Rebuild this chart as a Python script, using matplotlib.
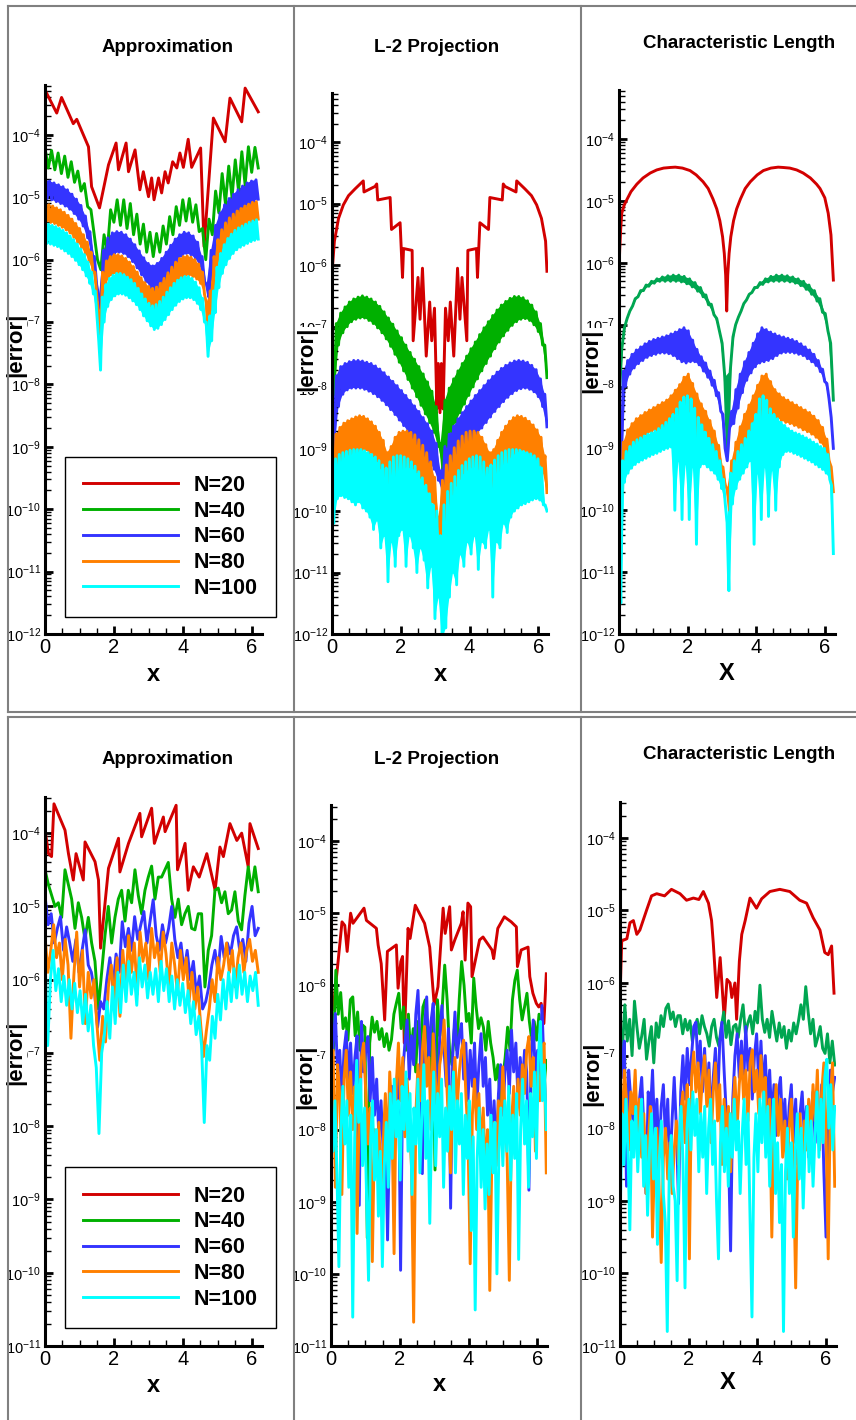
import numpy as np
import matplotlib
matplotlib.use("Agg")
import matplotlib.pyplot as plt
from matplotlib.ticker import LogLocator, MultipleLocator, LogFormatterMathtext, NullFormatter
from matplotlib.lines import Line2D

plt.rcParams["font.family"] = ["Liberation Sans", "DejaVu Sans"]
plt.rcParams["mathtext.fontset"] = "custom"
plt.rcParams["mathtext.rm"] = "Liberation Sans"
plt.rcParams["mathtext.it"] = "Liberation Sans:italic"
plt.rcParams["mathtext.bf"] = "Liberation Sans:bold"

# =========================================================
# DATA  (log10 of |error|)
# =========================================================
LABELS = ["N=20", "N=40", "N=60", "N=80", "N=100"]

# ---------- top row : smooth initial condition ----------
# Approximation
tl_red_x = [0.0, 0.34, 0.48, 0.82, 0.92, 1.26, 1.35, 1.58, 1.84, 2.06, 2.13, 2.35, 2.42, 2.61, 2.75, 2.85,
            3.0, 3.09, 3.16, 3.29, 3.38, 3.48, 3.57, 3.70, 3.82, 3.91, 4.01, 4.15, 4.25, 4.51, 4.61, 4.88,
            5.22, 5.36, 5.70, 5.80, 6.18]
tl_red_y = [-3.28, -3.65, -3.40, -3.82, -3.75, -4.19, -4.83, -5.17, -4.48, -4.13, -4.56, -4.13, -4.59, -4.24,
            -4.88, -4.59, -4.99, -4.69, -5.04, -4.69, -4.93, -4.59, -4.77, -4.43, -4.53, -4.29, -4.52, -4.07,
            -4.52, -4.21, -5.79, -3.73, -4.11, -3.41, -3.79, -3.25, -3.63]
tl_green_hi = [-4.21, -4.25, -4.29, -4.34, -4.43, -4.58, -4.78, -5.2, -6.0, -5.6, -5.2, -5.04, -5.04, -5.1,
               -5.27, -5.43, -5.56, -5.58, -5.46, -5.31, -5.15, -5.04, -5.02, -5.12, -5.5, -5.35, -4.9, -4.62,
               -4.5, -4.4, -4.27, -4.19, -4.2]
tl_green_lo = [-4.53, -4.56, -4.62, -4.68, -4.76, -4.9, -5.15, -5.6, -6.16, -5.85, -5.4, -5.45, -5.5, -5.6,
               -5.75, -5.88, -5.95, -5.88, -5.75, -5.6, -5.45, -5.38, -5.4, -5.55, -6.0, -5.6, -5.25, -5.1,
               -5.0, -4.9, -4.8, -4.6, -4.53]
tl_blue_hi = [-4.72, -4.74, -4.77, -4.80, -4.83, -4.88, -4.95, -5.03, -5.13, -5.30, -5.55, -5.95, -6.6, -5.85,
              -5.65, -5.57, -5.55, -5.56, -5.60, -5.67, -5.76, -5.86, -5.97, -6.06, -6.10, -6.06, -5.98, -5.88,
              -5.77, -5.67, -5.60, -5.56, -5.57, -5.62, -5.72, -5.95, -6.4, -5.85, -5.45, -5.25, -5.12, -5.02,
              -4.95, -4.88, -4.82, -4.77, -4.74, -4.72]
tl_blue_lo = [-5.02, -5.04, -5.07, -5.10, -5.14, -5.19, -5.26, -5.35, -5.46, -5.65, -5.95, -6.4, -6.8, -6.2,
              -5.98, -5.9, -5.88, -5.9, -5.95, -6.03, -6.13, -6.24, -6.35, -6.44, -6.48, -6.44, -6.36, -6.25,
              -6.13, -6.02, -5.94, -5.9, -5.92, -5.98, -6.1, -6.35, -6.6, -6.2, -5.8, -5.58, -5.45, -5.36,
              -5.29, -5.22, -5.15, -5.1, -5.06, -5.03]
tl_orange_hi = [-5.10, -5.12, -5.14, -5.17, -5.20, -5.24, -5.29, -5.35, -5.42, -5.50, -5.60, -5.72, -5.88, -6.2,
                -6.9, -6.2, -6.02, -5.95, -5.92, -5.92, -5.94, -5.98, -6.04, -6.11, -6.2, -6.29, -6.37, -6.43,
                -6.46, -6.44, -6.38, -6.3, -6.21, -6.12, -6.04, -5.98, -5.95, -5.94, -5.96, -6.0, -6.07, -6.2,
                -6.7, -6.5, -5.95, -5.68, -5.52, -5.41, -5.33, -5.27, -5.22, -5.18, -5.14, -5.11, -5.08, -5.07]
tl_orange_lo = [-5.38, -5.4, -5.42, -5.45, -5.48, -5.52, -5.57, -5.64, -5.72, -5.8, -5.9, -6.03, -6.2, -6.6,
                -7.2, -6.5, -6.3, -6.24, -6.22, -6.22, -6.24, -6.28, -6.35, -6.43, -6.52, -6.6, -6.68, -6.74,
                -6.78, -6.76, -6.7, -6.62, -6.52, -6.43, -6.35, -6.29, -6.26, -6.25, -6.27, -6.31, -6.38, -6.55,
                -7.39, -6.8, -6.25, -5.97, -5.8, -5.69, -5.61, -5.55, -5.5, -5.46, -5.42, -5.39, -5.36, -5.35]
tl_cyan_hi = [-5.42, -5.43, -5.45, -5.47, -5.50, -5.53, -5.57, -5.62, -5.68, -5.75, -5.83, -5.92, -6.04, -6.2,
              -6.5, -7.3, -6.6, -6.4, -6.3, -6.25, -6.22, -6.22, -6.24, -6.28, -6.32, -6.38, -6.46, -6.55,
              -6.63, -6.7, -6.74, -6.72, -6.67, -6.6, -6.52, -6.45, -6.38, -6.33, -6.29, -6.27, -6.27, -6.3,
              -6.36, -6.45, -6.62, -7.0, -6.9, -6.5, -6.12, -5.9, -5.76, -5.66, -5.59, -5.53, -5.49, -5.46,
              -5.43, -5.4, -5.38, -5.36]
tl_cyan_lo = [-5.74, -5.75, -5.77, -5.79, -5.82, -5.86, -5.9, -5.95, -6.01, -6.08, -6.16, -6.26, -6.38, -6.55,
              -6.9, -7.77, -7.0, -6.75, -6.64, -6.58, -6.55, -6.55, -6.57, -6.61, -6.66, -6.72, -6.8, -6.9,
              -6.98, -7.06, -7.12, -7.1, -7.04, -6.96, -6.88, -6.8, -6.73, -6.67, -6.63, -6.61, -6.61, -6.64,
              -6.7, -6.8, -7.0, -7.55, -7.3, -6.85, -6.45, -6.22, -6.08, -5.98, -5.9, -5.84, -5.8, -5.77,
              -5.74, -5.71, -5.69, -5.67]

# L-2 Projection
tm_red_x = [0.0, 0.07, 0.19, 0.33, 0.48, 0.67, 0.91, 0.93, 1.25, 1.30, 1.33, 1.69, 1.73, 1.98, 2.05, 2.08,
            2.33, 2.36, 2.50, 2.56, 2.63, 2.74, 2.84, 2.90, 2.98, 3.05, 3.09, 3.14, 3.18, 3.23, 3.30, 3.38,
            3.44, 3.54, 3.65, 3.72, 3.78, 3.92, 3.95, 4.20, 4.23, 4.30, 4.55, 4.59, 4.95, 4.98, 5.03, 5.35,
            5.37, 5.61, 5.80, 5.95, 6.09, 6.21, 6.25]
tm_red_y = [-6.13, -5.61, -5.24, -5.02, -4.87, -4.76, -4.63, -4.81, -4.72, -4.68, -4.94, -4.9, -5.42, -5.31,
            -6.2, -5.73, -5.76, -7.23, -6.2, -6.88, -6.05, -7.48, -6.6, -7.23, -6.7, -8.34, -7.6, -8.4, -7.6,
            -8.34, -6.7, -7.23, -6.6, -7.48, -6.05, -6.88, -6.2, -7.23, -5.76, -5.73, -6.2, -5.31, -5.42,
            -4.9, -4.94, -4.68, -4.72, -4.81, -4.63, -4.76, -4.87, -5.02, -5.24, -5.61, -6.1]
tm_green_hi = [-7.9, -6.95, -6.78, -6.68, -6.6, -6.55, -6.52, -6.5, -6.52, -6.55, -6.6, -6.67, -6.76, -6.86,
               -6.96, -7.07, -7.18, -7.3, -7.42, -7.53, -7.65, -7.77, -7.9, -8.05, -8.3, -8.9, -8.2, -8.0,
               -7.85, -7.72, -7.6, -7.48, -7.36, -7.25, -7.13, -7.02, -6.92, -6.82, -6.73, -6.65, -6.59,
               -6.54, -6.51, -6.51, -6.53, -6.58, -6.65, -6.76, -6.95, -7.3]
tm_green_lo = [-8.1, -7.3, -7.1, -7.0, -6.92, -6.88, -6.86, -6.86, -6.9, -6.95, -7.02, -7.1, -7.2, -7.32,
               -7.45, -7.58, -7.72, -7.86, -8.0, -8.14, -8.28, -8.42, -8.56, -8.72, -8.95, -9.3, -8.95, -8.7,
               -8.55, -8.4, -8.26, -8.12, -7.98, -7.85, -7.72, -7.6, -7.48, -7.36, -7.25, -7.15, -7.06,
               -6.98, -6.92, -6.88, -6.87, -6.9, -6.97, -7.08, -7.3, -7.83]
tm_blue_hi = [-8.4, -7.8, -7.65, -7.6, -7.57, -7.55, -7.55, -7.56, -7.58, -7.6, -7.64, -7.69, -7.75, -7.82,
              -7.89, -7.96, -8.04, -8.12, -8.2, -8.29, -8.38, -8.48, -8.58, -8.7, -8.9, -9.35, -8.95, -8.75,
              -8.62, -8.5, -8.4, -8.3, -8.21, -8.12, -8.04, -7.96, -7.88, -7.81, -7.74, -7.68, -7.63, -7.59,
              -7.56, -7.55, -7.56, -7.58, -7.63, -7.7, -7.85, -8.1]
tm_blue_lo = [-9.0, -8.3, -8.1, -8.03, -8.0, -8.0, -8.0, -8.02, -8.05, -8.09, -8.14, -8.2, -8.27, -8.35,
              -8.43, -8.52, -8.61, -8.7, -8.8, -8.9, -9.0, -9.1, -9.2, -9.32, -9.5, -9.7, -9.5, -9.38, -9.26,
              -9.15, -9.04, -8.94, -8.84, -8.74, -8.65, -8.56, -8.47, -8.38, -8.3, -8.22, -8.15, -8.09,
              -8.04, -8.01, -8.0, -8.02, -8.06, -8.14, -8.3, -8.63]
tm_orange_hi = [-9.05, -8.75, -8.64, -8.57, -8.53, -8.5, -8.47, -8.45, -8.46, -8.5, -8.55, -8.62, -8.72, -8.85,
                -9.05, -8.95, -8.8, -8.72, -8.7, -8.7, -8.72, -8.76, -8.84, -8.93, -9.05, -9.2, -9.45, -10.1,
                -9.5, -9.25, -9.1, -8.97, -8.86, -8.78, -8.72, -8.7, -8.7, -8.72, -8.8, -8.92, -9.05, -9.0,
                -8.85, -8.72, -8.62, -8.54, -8.48, -8.45, -8.46, -8.49, -8.54, -8.6, -8.68, -8.8, -9.1]
tm_orange_lo = [-9.8, -9.3, -9.18, -9.12, -9.08, -9.05, -9.02, -9.0, -9.01, -9.05, -9.1, -9.18, -9.3, -9.5,
                -9.75, -9.6, -9.42, -9.32, -9.28, -9.28, -9.3, -9.36, -9.45, -9.56, -9.68, -9.85, -10.1, -10.4,
                -10.15, -9.9, -9.72, -9.58, -9.47, -9.38, -9.32, -9.28, -9.28, -9.32, -9.42, -9.55, -9.72,
                -9.6, -9.42, -9.3, -9.2, -9.12, -9.06, -9.02, -9.02, -9.05, -9.1, -9.16, -9.25, -9.38, -9.7]
tm_cyan_hi = [-9.97, -9.15, -9.08, -9.05, -9.03, -9.01, -9.0, -9.0, -9.0, -9.02, -9.05, -9.08, -9.12, -9.18,
              -9.25, -9.3, -9.2, -9.12, -9.1, -9.1, -9.12, -9.15, -9.2, -9.27, -9.36, -9.46, -9.58, -9.72,
              -9.9, -10.0, -10.4, -9.9, -9.68, -9.55, -9.44, -9.34, -9.26, -9.2, -9.15, -9.12, -9.1, -9.12,
              -9.2, -9.3, -9.25, -9.17, -9.1, -9.05, -9.02, -9.0, -9.0, -9.0, -9.01, -9.03, -9.05, -9.07,
              -9.1, -9.15, -9.3, -9.9]
tm_cyan_lo = [-10.2, -9.8, -9.75, -9.78, -9.8, -9.85, -9.9, -9.85, -9.95, -10.0, -10.1, -10.3, -10.15, -10.6,
              -10.4, -11.15, -10.5, -10.9, -10.4, -10.3, -10.9, -10.4, -10.6, -11.0, -10.6, -10.8, -11.25,
              -10.9, -11.75, -11.4, -12.1, -11.9, -11.4, -11.0, -11.2, -10.7, -10.9, -10.5, -10.7, -10.4,
              -10.95, -10.5, -10.6, -10.3, -11.4, -10.5, -10.6, -10.2, -10.35, -10.1, -10.0, -9.95, -9.9,
              -9.88, -9.85, -9.82, -9.8, -9.82, -9.9, -10.0]

# Characteristic Length
tr_red_x = [0.0, 0.02, 0.05, 0.08, 0.15, 0.22, 0.35, 0.52, 0.7, 0.91, 1.1, 1.3, 1.5, 1.64, 1.85, 2.07, 2.25,
            2.45, 2.6, 2.74, 2.85, 2.94, 3.02, 3.07, 3.11, 3.14, 3.17, 3.21, 3.26, 3.34, 3.43, 3.54, 3.68,
            3.83, 4.03, 4.21, 4.43, 4.64, 4.78, 4.98, 5.18, 5.37, 5.58, 5.76, 5.86, 6.0, 6.1, 6.18, 6.25]
tr_red_y = [-6.16, -5.8, -5.45, -5.2, -5.07, -4.99, -4.85, -4.73, -4.63, -4.55, -4.5, -4.47, -4.46, -4.455,
            -4.47, -4.51, -4.58, -4.69, -4.8, -4.97, -5.13, -5.32, -5.58, -5.85, -6.2, -6.78, -6.2, -5.85,
            -5.58, -5.32, -5.13, -4.97, -4.8, -4.69, -4.58, -4.51, -4.47, -4.455, -4.46, -4.47, -4.5, -4.55,
            -4.63, -4.73, -4.8, -4.95, -5.2, -5.55, -6.28]
tr_green_hi = [-8.3, -7.05, -6.78, -6.58, -6.45, -6.36, -6.3, -6.26, -6.23, -6.21, -6.2, -6.2, -6.22, -6.26,
               -6.32, -6.4, -6.52, -6.67, -6.9, -7.3, -9.1, -7.2, -6.88, -6.66, -6.51, -6.4, -6.32, -6.26,
               -6.22, -6.2, -6.2, -6.21, -6.23, -6.26, -6.3, -6.36, -6.45, -6.58, -6.82, -7.3]
tr_green_lo = [-7.4, -6.9, -6.7, -6.55, -6.45, -6.38, -6.33, -6.3, -6.3, -6.3, -6.3, -6.31, -6.34, -6.39,
               -6.46, -6.55, -6.68, -6.84, -7.1, -7.85, -7.75, -7.0, -6.78, -6.6, -6.48, -6.4, -6.35, -6.31,
               -6.3, -6.3, -6.3, -6.31, -6.33, -6.37, -6.43, -6.51, -6.62, -6.8, -7.1, -8.22]
tr_blue_hi = [-9.2, -7.75, -7.58, -7.48, -7.41, -7.36, -7.31, -7.27, -7.24, -7.22, -7.2, -7.18, -7.15, -7.12,
              -7.08, -7.05, -7.1, -7.25, -7.4, -7.52, -7.62, -7.75, -7.9, -8.1, -8.45, -9.2, -8.4, -8.05,
              -7.8, -7.6, -7.45, -7.3, -7.15, -7.05, -7.08, -7.12, -7.15, -7.18, -7.2, -7.22, -7.24, -7.27,
              -7.31, -7.36, -7.41, -7.48, -7.58, -7.72, -7.95, -8.5]
tr_blue_lo = [-9.5, -8.0, -7.8, -7.7, -7.63, -7.58, -7.53, -7.5, -7.48, -7.46, -7.46, -7.47, -7.5, -7.55,
              -7.6, -7.62, -7.6, -7.6, -7.65, -7.75, -7.85, -7.98, -8.15, -8.4, -9.0, -8.7, -8.6, -8.35,
              -8.1, -7.9, -7.78, -7.68, -7.62, -7.6, -7.58, -7.55, -7.5, -7.46, -7.45, -7.45, -7.46, -7.48,
              -7.5, -7.55, -7.6, -7.66, -7.76, -7.92, -8.2, -9.0]
tr_orange_hi = [-9.7, -8.9, -8.7, -8.6, -8.52, -8.47, -8.42, -8.38, -8.34, -8.3, -8.26, -8.22, -8.15, -8.06,
                -7.97, -7.85, -7.8, -7.95, -8.12, -8.28, -8.4, -8.55, -8.72, -8.95, -9.3, -9.65, -9.2, -8.9,
                -8.65, -8.45, -8.3, -8.15, -7.98, -7.83, -7.8, -7.92, -8.05, -8.12, -8.18, -8.22, -8.26,
                -8.3, -8.34, -8.38, -8.42, -8.48, -8.55, -8.66, -8.85, -9.3]
tr_orange_lo = [-10.0, -9.25, -9.05, -8.95, -8.87, -8.82, -8.77, -8.73, -8.7, -8.67, -8.64, -8.6, -8.55, -8.5,
                -8.45, -8.4, -8.4, -8.9, -8.6, -8.7, -8.8, -8.95, -9.1, -9.3, -9.6, -10.0, -9.55, -9.25, -9.0,
                -8.82, -8.7, -8.58, -8.48, -8.9, -8.42, -8.45, -8.5, -8.55, -8.58, -8.6, -8.63, -8.66, -8.7,
                -8.73, -8.77, -8.82, -8.9, -9.0, -9.2, -9.7]
tr_cyan_hi = [-10.5, -9.2, -9.05, -8.97, -8.9, -8.86, -8.83, -8.8, -8.77, -8.75, -8.72, -8.68, -8.63, -8.58,
              -8.52, -8.45, -8.36, -8.25, -8.17, -8.15, -8.2, -8.35, -8.5, -8.62, -8.74, -8.84, -8.94, -9.05,
              -9.2, -9.5, -10.2, -9.4, -9.2, -9.05, -8.94, -8.84, -8.72, -8.6, -8.45, -8.2, -8.15, -8.22,
              -8.36, -8.45, -8.52, -8.58, -8.63, -8.68, -8.72, -8.75, -8.77, -8.8, -8.83, -8.86, -8.9, -8.93,
              -8.97, -9.0, -9.1, -9.6]
tr_cyan_lo = [-11.5, -9.55, -9.4, -9.32, -9.26, -9.22, -9.19, -9.16, -9.13, -9.1, -9.08, -9.05, -9.02, -9.0,
              -8.98, -10.0, -9.2, -10.15, -9.25, -10.15, -9.3, -10.55, -9.3, -9.25, -9.3, -9.35, -9.4, -9.5,
              -9.65, -9.9, -11.3, -9.9, -9.65, -9.5, -9.4, -9.3, -9.2, -10.55, -9.4, -10.15, -9.3, -10.1,
              -9.35, -10.0, -9.3, -9.1, -9.05, -9.05, -9.08, -9.1, -9.13, -9.16, -9.19, -9.22, -9.26, -9.3,
              -9.34, -9.4, -9.5, -10.7]

# ---------- bottom row : rough initial condition ----------
# Approximation
bl_red_x = [0.0, 0.03, 0.1, 0.19, 0.26, 0.58, 0.68, 0.82, 0.9, 1.11, 1.16, 1.45, 1.55, 1.61, 1.84, 2.13, 2.17,
            2.42, 2.75, 2.8, 3.09, 3.17, 3.43, 3.48, 3.8, 3.84, 4.06, 4.15, 4.3, 4.47, 4.69, 4.93, 5.07, 5.17,
            5.36, 5.56, 5.7, 5.89, 5.94, 6.18]
bl_red_y = [-3.95, -4.05, -4.28, -4.32, -3.6, -3.96, -4.28, -4.64, -4.28, -4.64, -4.12, -4.39, -4.64, -5.57,
            -4.48, -4.07, -4.53, -4.14, -3.73, -4.05, -3.66, -4.14, -3.78, -3.98, -3.62, -4.5, -4.14, -4.78,
            -4.46, -4.6, -4.28, -4.78, -4.19, -4.32, -3.87, -4.1, -4.0, -4.46, -3.87, -4.21]
bl_green = [-4.5, -4.7, -4.85, -5.0, -4.95, -5.15, -4.5, -4.7, -4.9, -5.3, -4.95, -5.15, -5.45, -5.15, -5.5,
            -5.75, -6.4, -5.9, -5.4, -5.0, -5.5, -5.15, -4.9, -4.78, -5.2, -4.78, -4.95, -4.5, -4.85, -5.1,
            -4.78, -4.6, -4.45, -4.9, -4.6, -4.6, -4.5, -4.4, -4.9, -5.15, -4.9, -5.25, -5.1, -5.0, -5.3,
            -5.32, -5.1, -5.1, -6.1, -5.6, -5.4, -4.78, -4.75, -4.95, -4.8, -5.1, -5.05, -4.8, -5.2, -5.32,
            -4.85, -4.46, -4.78, -4.46, -4.8]
bl_blue = [-4.85, -5.25, -5.1, -5.5, -5.3, -5.14, -5.6, -5.28, -5.5, -5.75, -5.45, -5.9, -5.6, -5.32, -5.8,
           -5.9, -6.15, -6.65, -6.3, -6.4, -6.0, -5.7, -6.1, -5.65, -5.9, -5.21, -5.55, -5.3, -5.6, -5.14,
           -5.45, -5.25, -5.07, -5.5, -5.2, -4.91, -5.4, -5.6, -5.25, -5.5, -5.3, -5.0, -5.45, -5.7, -5.5,
           -5.9, -5.6, -6.0, -5.75, -6.2, -5.95, -6.4, -6.3, -6.1, -5.8, -5.6, -5.9, -5.41, -5.7, -5.5,
           -5.65, -5.4, -5.28, -5.6, -5.45, -5.75, -5.23, -5.0, -5.4, -5.3]
bl_orange = [-5.4, -5.9, -5.6, -5.25, -5.7, -5.5, -6.0, -5.45, -5.8, -6.8, -5.95, -5.35, -6.1, -5.6, -6.6,
             -5.9, -6.25, -6.0, -6.6, -7.1, -6.5, -6.85, -6.1, -5.8, -6.3, -5.7, -6.5, -5.6, -6.1, -5.4,
             -5.9, -5.5, -6.2, -5.35, -5.75, -5.5, -6.0, -5.3, -5.7, -5.5, -5.9, -5.35, -5.65, -6.1, -5.5,
             -5.8, -6.2, -5.6, -6.0, -5.7, -6.3, -5.9, -6.4, -6.1, -6.6, -7.05, -6.7, -6.4, -6.0, -6.3,
             -5.7, -6.0, -5.8, -5.5, -5.9, -5.6, -6.1, -5.7, -5.5, -5.9, -5.6, -5.45, -5.75, -5.6, -5.9]
bl_cyan = [-5.65, -6.9, -6.0, -5.6, -6.15, -5.85, -6.3, -5.95, -6.35, -6.0, -6.4, -6.05, -6.45, -6.15, -6.6,
           -6.2, -6.7, -6.35, -6.9, -7.2, -8.1, -7.0, -6.75, -6.3, -6.8, -6.1, -6.6, -5.9, -6.45, -5.8,
           -6.3, -5.75, -6.2, -5.9, -6.35, -5.7, -6.1, -5.8, -6.25, -5.9, -6.2, -5.85, -6.3, -5.75, -6.15,
           -5.85, -6.3, -5.95, -6.4, -6.0, -6.35, -6.05, -6.45, -6.15, -6.6, -6.3, -6.75, -6.5, -6.9, -7.95,
           -6.9, -7.1, -6.5, -6.8, -6.2, -6.55, -6.0, -6.4, -5.9, -6.3, -5.85, -6.25, -5.8, -6.2, -5.9,
           -6.3, -5.95, -6.15, -5.9, -6.35]

# L-2 Projection
bm_red_x = [0.0, 0.06, 0.2, 0.32, 0.4, 0.47, 0.57, 0.64, 0.96, 1.03, 1.32, 1.37, 1.46, 1.56, 1.64, 1.9, 1.95,
            2.03, 2.08, 2.13, 2.24, 2.3, 2.45, 2.72, 2.87, 3.0, 3.11, 3.26, 3.32, 3.45, 3.5, 3.6, 3.79, 3.84,
            3.9, 3.98, 4.06, 4.1, 4.32, 4.42, 4.68, 4.73, 4.85, 5.04, 5.24, 5.39, 5.42, 5.53, 5.73, 5.78,
            5.87, 5.97, 6.04, 6.11, 6.19, 6.26]
bm_red_y = [-6.3, -6.34, -5.7, -5.12, -5.17, -5.53, -5.0, -5.14, -4.93, -5.1, -5.21, -5.44, -5.7, -6.48,
            -5.53, -5.44, -6.04, -5.67, -5.6, -6.8, -5.21, -5.35, -4.89, -5.14, -5.47, -6.27, -6.02, -4.93,
            -5.28, -4.91, -5.51, -5.37, -5.14, -4.98, -5.65, -4.86, -4.91, -5.88, -5.37, -5.33, -5.51,
            -5.63, -5.21, -5.05, -5.12, -5.19, -5.74, -5.51, -5.47, -5.88, -6.11, -6.25, -6.3, -6.25,
            -6.53, -5.84]
bm_green = [-6.4, -6.9, -5.79, -6.4, -6.1, -6.6, -6.45, -6.76, -6.2, -6.16, -6.7, -6.37, -6.9, -6.55, -6.58,
            -9.5, -6.8, -6.44, -6.65, -6.5, -6.75, -6.6, -6.85, -6.67, -6.9, -6.75, -6.4, -6.25, -6.11,
            -6.6, -6.3, -6.9, -6.4, -7.0, -6.6, -7.2, -6.5, -6.9, -6.3, -6.2, -6.8, -7.4, -6.5, -8.56,
            -6.2, -6.7, -6.3, -5.72, -6.2, -6.9, -7.1, -6.6, -6.9, -6.2, -5.67, -6.0, -6.5, -6.39, -6.8,
            -5.9, -6.3, -6.6, -6.45, -6.58, -6.9, -6.5, -6.8, -7.0, -7.31, -7.1, -7.68, -7.3, -7.0, -6.58,
            -6.9, -6.2, -5.93, -5.79, -6.2, -6.48, -6.3, -6.11, -6.5, -6.76, -6.5, -6.76, -6.4, -6.9,
            -7.41, -7.04]
bm_blue = [-7.5, -6.8, -6.39, -7.2, -6.9, -7.6, -6.9, -6.64, -7.3, -6.8, -7.5, -7.0, -6.7, -9.05, -6.5, -7.2,
           -6.9, -6.71, -7.6, -7.0, -7.8, -7.3, -8.1, -7.6, -8.3, -7.8, -9.53, -7.9, -7.4, -8.2, -7.5, -7.0,
           -9.95, -7.2, -6.8, -6.48, -7.3, -6.7, -7.1, -6.4, -6.07, -6.9, -8.61, -6.6, -6.16, -7.0, -6.5,
           -6.25, -7.1, -7.6, -6.7, -6.28, -6.9, -7.4, -6.6, -9.09, -6.9, -6.37, -7.0, -6.7, -6.53, -7.3,
           -6.8, -7.6, -6.9, -7.4, -6.8, -7.7, -7.1, -6.67, -7.4, -7.0, -7.8, -7.3, -8.2, -7.6, -8.4, -7.5,
           -7.1, -7.8, -7.2, -6.9, -7.5, -6.62, -7.2, -6.8, -7.6, -7.0, -7.4, -6.9, -7.2, -8.84, -7.0,
           -6.48, -7.3, -6.9, -7.5, -6.28, -7.2, -7.9]
bm_orange = [-7.6, -6.9, -8.8, -7.1, -7.5, -8.9, -7.3, -6.9, -7.8, -7.2, -8.0, -7.4, -9.44, -7.6, -7.0, -6.8,
             -7.5, -8.2, -7.7, -9.83, -8.0, -8.6, -7.9, -8.8, -8.2, -7.5, -8.4, -7.2, -7.8, -9.72, -7.4,
             -6.8, -7.6, -7.0, -8.1, -7.3, -7.9, -8.5, -10.67, -7.8, -7.1, -7.6, -6.9, -6.57, -7.4, -7.0,
             -8.0, -6.67, -7.3, -7.8, -7.1, -6.9, -6.48, -7.2, -7.9, -8.6, -7.4, -7.0, -7.7, -7.2, -6.9,
             -6.76, -7.5, -8.1, -9.86, -7.8, -7.3, -8.0, -7.5, -8.3, -7.7, -8.6, -8.0, -10.23, -8.3, -7.9,
             -8.5, -7.6, -8.0, -7.13, -7.7, -8.4, -10.09, -7.9, -7.4, -8.0, -7.3, -7.8, -7.1, -7.5, -6.9,
             -6.71, -7.4, -7.0, -8.3, -7.2, -7.6, -6.9, -6.8, -8.6]
bm_cyan = [-7.8, -8.3, -7.6, -8.6, -9.9, -8.0, -7.4, -8.2, -7.6, -8.8, -7.8, -10.6, -8.1, -7.04, -7.9, -7.3,
           -8.5, -7.7, -8.9, -10.09, -8.2, -7.6, -8.7, -8.0, -9.2, -8.3, -9.9, -8.5, -7.9, -8.8, -7.5, -8.4,
           -7.3, -8.1, -7.6, -8.7, -7.4, -8.0, -7.2, -8.3, -7.5, -8.9, -7.7, -8.2, -7.3, -8.6, -7.8, -7.1,
           -8.4, -7.6, -9.3, -7.9, -7.2, -8.5, -7.5, -8.1, -7.3, -8.8, -7.7, -8.3, -7.4, -8.0, -7.2, -8.6,
           -7.6, -8.2, -7.5, -8.9, -7.8, -8.4, -7.6, -9.4, -8.1, -10.5, -8.4, -7.7, -8.8, -8.0, -9.1, -8.2,
           -8.9, -7.8, -8.6, -7.9, -10.0, -8.3, -7.7, -8.5, -7.6, -8.3, -7.4, -8.7, -7.8, -8.4, -7.5, -9.8,
           -8.0, -7.3, -8.2, -7.6, -8.8, -7.5, -8.1, -7.2, -8.4, -7.0, -6.5, -7.6, -7.1, -8.0]

# Characteristic Length
br_red_x = [0.0, 0.05, 0.2, 0.29, 0.39, 0.49, 0.58, 0.78, 0.92, 1.07, 1.3, 1.5, 1.75, 1.94, 2.14, 2.3, 2.43,
            2.58, 2.67, 2.72, 2.82, 2.92, 2.97, 3.04, 3.12, 3.21, 3.26, 3.35, 3.4, 3.48, 3.55, 3.65, 3.79,
            3.98, 4.13, 4.37, 4.66, 4.95, 5.24, 5.44, 5.63, 5.83, 5.97, 6.07, 6.17, 6.24]
br_red_y = [-6.23, -5.42, -5.39, -5.17, -5.14, -5.33, -5.27, -4.99, -4.8, -4.77, -4.8, -4.71, -4.77, -4.86,
            -4.83, -4.85, -4.74, -4.9, -5.14, -5.45, -6.2, -5.65, -6.0, -6.5, -5.95, -6.0, -6.2, -6.0, -6.5,
            -5.7, -5.33, -5.14, -4.83, -4.97, -4.84, -4.74, -4.71, -4.74, -4.86, -4.9, -5.1, -5.27, -5.58,
            -5.61, -5.49, -6.14]
br_green = [-6.6, -6.9, -6.3, -6.8, -6.5, -7.0, -6.25, -6.6, -6.9, -6.73, -6.5, -7.05, -6.8, -6.6, -7.1,
            -6.55, -6.75, -6.45, -6.6, -6.35, -6.29, -6.5, -6.4, -6.6, -6.45, -6.45, -6.7, -6.5, -6.65,
            -6.52, -6.8, -6.6, -6.5, -6.7, -6.45, -6.6, -6.7, -6.87, -6.6, -6.5, -6.75, -6.87, -6.6, -6.4,
            -6.75, -6.52, -6.85, -6.6, -6.57, -6.75, -6.5, -6.3, -6.7, -6.55, -6.45, -6.7, -6.39, -6.55,
            -6.03, -6.5, -6.68, -6.5, -6.75, -6.39, -6.6, -6.8, -6.55, -6.75, -6.6, -6.9, -6.65, -6.8,
            -6.55, -6.7, -6.52, -6.3, -6.5, -6.05, -6.4, -6.7, -6.5, -6.87, -6.75, -6.6, -6.9, -6.97, -6.7,
            -7.1, -6.8, -7.13]
br_blue = [-6.6, -7.3, -6.8, -8.8, -7.2, -7.6, -7.9, -7.4, -8.2, -7.6, -7.3, -8.0, -8.9, -7.5, -7.8, -7.2,
           -8.1, -7.6, -8.4, -7.7, -7.4, -8.2, -7.6, -8.6, -7.9, -7.3, -8.0, -9.04, -7.5, -7.0, -7.6, -6.9,
           -7.4, -7.0, -6.6, -6.54, -7.2, -6.8, -7.5, -6.9, -7.6, -7.1, -7.9, -7.3, -6.9, -7.7, -6.8, -6.54,
           -7.2, -7.8, -8.3, -9.69, -7.6, -7.0, -6.7, -7.3, -6.8, -7.4, -6.6, -7.2, -6.9, -7.6, -7.0, -6.7,
           -7.4, -6.8, -7.5, -7.0, -7.7, -7.2, -7.9, -7.4, -8.1, -7.5, -7.3, -8.0, -7.6, -8.3, -7.7, -7.4,
           -8.2, -7.6, -8.5, -7.8, -7.5, -8.1, -7.7, -8.4, -7.9, -7.5, -8.2, -7.6, -8.0, -7.4, -8.6, -9.5,
           -7.8, -7.2, -7.5, -7.3]
br_orange = [-7.3, -8.0, -7.2, -7.6, -8.3, -7.5, -7.8, -7.2, -8.1, -7.6, -8.4, -7.8, -8.9, -8.2, -7.7, -9.5,
             -8.3, -8.0, -8.8, -9.85, -8.4, -8.0, -8.7, -8.2, -8.9, -8.3, -7.9, -8.5, -7.8, -7.5, -8.2, -7.4,
             -9.8, -7.3, -6.95, -7.5, -7.1, -7.8, -7.3, -7.0, -7.7, -7.2, -8.2, -7.5, -7.1, -7.9, -7.4,
             -8.5, -7.6, -8.1, -7.7, -8.6, -7.8, -7.3, -8.0, -7.4, -7.0, -7.6, -7.2, -7.9, -7.1, -6.92,
             -7.5, -7.2, -7.8, -7.0, -7.6, -7.3, -8.2, -7.6, -9.5, -7.9, -7.4, -8.1, -7.6, -8.4, -7.9,
             -8.7, -8.0, -7.6, -8.5, -10.2, -8.3, -7.8, -8.6, -7.9, -8.3, -7.6, -8.1, -7.4, -7.9, -7.2,
             -8.3, -7.5, -7.1, -8.0, -9.8, -7.6, -7.1, -8.8]
br_cyan = [-9.4, -7.8, -8.5, -7.6, -8.3, -9.4, -7.9, -8.4, -7.7, -8.6, -8.0, -7.6, -8.8, -8.1, -9.2, -8.3,
           -7.8, -8.7, -8.0, -9.6, -8.4, -7.9, -8.9, -9.3, -10.8, -8.6, -8.1, -8.8, -9.0, -10.1, -8.2, -7.7,
           -8.5, -10.2, -8.0, -7.6, -8.3, -7.5, -8.1, -7.6, -8.6, -7.8, -8.4, -7.7, -8.9, -8.0, -7.6, -8.5,
           -7.9, -9.0, -9.8, -8.2, -7.7, -8.6, -8.0, -8.8, -7.8, -8.4, -7.6, -8.3, -7.9, -8.9, -8.1, -7.6,
           -8.5, -7.8, -9.2, -10.6, -8.4, -7.8, -8.6, -7.6, -8.2, -7.5, -8.4, -7.7, -8.8, -8.1, -7.6, -8.9,
           -8.2, -9.3, -8.5, -10.8, -8.6, -8.0, -8.9, -8.2, -9.5, -8.3, -7.8, -8.7, -8.0, -9.1, -8.2, -7.7,
           -8.6, -7.9, -8.8, -8.1, -7.5, -8.4, -7.6, -8.2, -7.3, -7.05, -8.0, -7.4, -8.3, -7.7]

# =========================================================
# STYLE
# =========================================================
RED = "#d20000"
GREEN = "#00b000"
GREEN_CL = "#00a651"
BLUE = "#3434ff"
ORANGE = "#ff8000"
CYAN = "#00ffff"
LW = 2.1

W, H = 856, 1420


def frac_rect(left, right, top, bottom):
    return [left / W, 1 - bottom / H, (right - left) / W, (bottom - top) / H]


def zig(hi, lo, x_end):
    n = len(hi)
    x = np.linspace(0, x_end, 2 * n)
    y = np.empty(2 * n)
    y[0::2] = hi
    y[1::2] = lo
    return x, 10.0 ** y


def even(vals, x_end):
    return np.linspace(0, x_end, len(vals)), 10.0 ** np.asarray(vals)


def pts(xs, ys):
    return np.asarray(xs), 10.0 ** np.asarray(ys)


def band(ax, hi, lo, x_end, color, label=None, fill=True):
    # dense saw-tooth series: solid body between the tooth tips plus the jagged line itself
    x, y = zig(hi, lo, x_end)
    if fill:
        xs = np.concatenate([x[0::2], x[1::2][::-1]])
        ys = np.concatenate([y[0::2], y[1::2][::-1]])
        ax.fill(xs, ys, color=color, lw=0)
    ax.plot(x, y, color=color, lw=LW, label=label)


def make_axes(fig, rect, ylim, xlab, xlab_y, ylab_xy):
    ax = fig.add_axes(rect)
    ax.set_yscale("log")
    ax.set_xlim(0, 2 * np.pi)
    ax.set_ylim(*ylim)
    for s in ("top", "right"):
        ax.spines[s].set_visible(False)
    for s in ("left", "bottom"):
        ax.spines[s].set_linewidth(2.2)
    ax.yaxis.set_major_locator(LogLocator(base=10, numticks=40))
    ax.yaxis.set_minor_locator(LogLocator(base=10, subs=np.arange(2, 10), numticks=40))
    ax.yaxis.set_major_formatter(LogFormatterMathtext())
    ax.yaxis.set_minor_formatter(NullFormatter())
    ax.xaxis.set_major_locator(MultipleLocator(2))
    ax.xaxis.set_minor_locator(MultipleLocator(0.5))
    ax.tick_params(which="both", direction="in", top=False, right=False)
    ax.tick_params(which="major", length=6, width=2.0)
    ax.tick_params(which="minor", length=4, width=1.0)
    ax.tick_params(axis="y", which="major", labelsize=10.5, pad=3)
    ax.tick_params(axis="x", which="major", labelsize=14.5, pad=3)
    ax.set_xlabel(xlab, fontsize=17, fontweight="bold", va="center")
    ax.xaxis.set_label_coords(0.5, xlab_y)
    ax.set_ylabel("|error|", fontsize=16, fontweight="bold", va="center",
                  bbox=dict(facecolor="white", edgecolor="none", pad=0.2))
    ax.yaxis.set_label_coords(*ylab_xy)
    return ax


fig = plt.figure(figsize=(W / 100, H / 100), dpi=100)

TOP_LIM = (1e-12, 10 ** -3.2)
BOT_LIM = (1e-11, 10 ** -3.5)

ax_tl = make_axes(fig, frac_rect(45, 261.8, 85, 634), TOP_LIM, "x", -0.073, (-0.134, 0.527))
ax_tm = make_axes(fig, frac_rect(332, 548.1, 93, 634), TOP_LIM, "x", -0.074, (-0.116, 0.508))
ax_tr = make_axes(fig, frac_rect(619, 834.5, 89.5, 634), TOP_LIM, "X", -0.072, (-0.125, 0.502))
ax_bl = make_axes(fig, frac_rect(45, 261.8, 796.5, 1346), BOT_LIM, "x", -0.071, (-0.134, 0.533))
ax_bm = make_axes(fig, frac_rect(331, 547.1, 805, 1346), BOT_LIM, "x", -0.071, (-0.116, 0.498))
ax_br = make_axes(fig, frac_rect(620, 835.5, 801.5, 1346), BOT_LIM, "X", -0.067, (-0.125, 0.499))

# ---------- top row ----------
ax_tl.plot(*pts(tl_red_x, tl_red_y), color=RED, lw=LW, label=LABELS[0])
band(ax_tl, tl_green_hi, tl_green_lo, 6.18, GREEN, LABELS[1], fill=False)
band(ax_tl, tl_blue_hi, tl_blue_lo, 6.18, BLUE, LABELS[2])
band(ax_tl, tl_orange_hi, tl_orange_lo, 6.18, ORANGE, LABELS[3])
band(ax_tl, tl_cyan_hi, tl_cyan_lo, 6.18, CYAN, LABELS[4])

ax_tm.plot(*pts(tm_red_x, tm_red_y), color=RED, lw=LW)
band(ax_tm, tm_green_hi, tm_green_lo, 6.25, GREEN)
band(ax_tm, tm_blue_hi, tm_blue_lo, 6.25, BLUE)
band(ax_tm, tm_orange_hi, tm_orange_lo, 6.25, ORANGE)
band(ax_tm, tm_cyan_hi, tm_cyan_lo, 6.25, CYAN)

ax_tr.plot(*pts(tr_red_x, tr_red_y), color=RED, lw=LW)
band(ax_tr, tr_green_hi, tr_green_lo, 6.25, GREEN_CL)
band(ax_tr, tr_blue_hi, tr_blue_lo, 6.25, BLUE)
band(ax_tr, tr_orange_hi, tr_orange_lo, 6.25, ORANGE)
band(ax_tr, tr_cyan_hi, tr_cyan_lo, 6.25, CYAN)

# ---------- bottom row ----------
ax_bl.plot(*pts(bl_red_x, bl_red_y), color=RED, lw=LW, label=LABELS[0])
ax_bl.plot(*even(bl_green, 6.18), color=GREEN, lw=LW, label=LABELS[1])
ax_bl.plot(*even(bl_blue, 6.18), color=BLUE, lw=LW, label=LABELS[2])
ax_bl.plot(*even(bl_orange, 6.18), color=ORANGE, lw=LW, label=LABELS[3])
ax_bl.plot(*even(bl_cyan, 6.18), color=CYAN, lw=LW, label=LABELS[4])

ax_bm.plot(*pts(bm_red_x, bm_red_y), color=RED, lw=LW)
ax_bm.plot(*even(bm_green, 6.26), color=GREEN, lw=LW)
ax_bm.plot(*even(bm_blue, 6.26), color=BLUE, lw=LW)
ax_bm.plot(*even(bm_orange, 6.26), color=ORANGE, lw=LW)
ax_bm.plot(*even(bm_cyan, 6.26), color=CYAN, lw=LW)

ax_br.plot(*pts(br_red_x, br_red_y), color=RED, lw=LW)
ax_br.plot(*even(br_green, 6.26), color=GREEN_CL, lw=LW)
ax_br.plot(*even(br_blue, 6.26), color=BLUE, lw=LW)
ax_br.plot(*even(br_orange, 6.26), color=ORANGE, lw=LW)
ax_br.plot(*even(br_cyan, 6.26), color=CYAN, lw=LW)

# legends
for ax, anchor in ((ax_tl, (0.579, 0.177)), (ax_bl, (0.579, 0.179))):
    leg = ax.legend(loc="center", bbox_to_anchor=anchor, frameon=True, fancybox=False,
                    edgecolor="black", framealpha=1, prop={"weight": "bold", "size": 15.5},
                    handlelength=4.4, handletextpad=0.75, labelspacing=0.22, borderpad=0.85,
                    borderaxespad=0)
    leg.get_frame().set_linewidth(1.0)

# titles
TITLES = [("Approximation", 167.5, 48), ("L-2 Projection", 436.5, 48), ("Characteristic Length", 739, 44),
          ("Approximation", 167.5, 760), ("L-2 Projection", 436.5, 760), ("Characteristic Length", 739, 755)]
for txt, xp, yp in TITLES:
    fig.text(xp / W, 1 - yp / H, txt, ha="center", va="center", fontsize=13.5, fontweight="bold")

# panel frames
FRAME = "#808080"


def fline(x0, y0, x1, y1):
    fig.add_artist(Line2D([x0 / W, x1 / W], [1 - y0 / H, 1 - y1 / H], transform=fig.transFigure,
                          color=FRAME, lw=1.5))


fline(8, 6, W, 6)
fline(8, 712, W, 712)
fline(8, 717, W, 717)
for xv in (8, 294, 581):
    fline(xv, 6, xv, 712)
    fline(xv, 717, xv, H)

fig.savefig("out.png", dpi=100)
